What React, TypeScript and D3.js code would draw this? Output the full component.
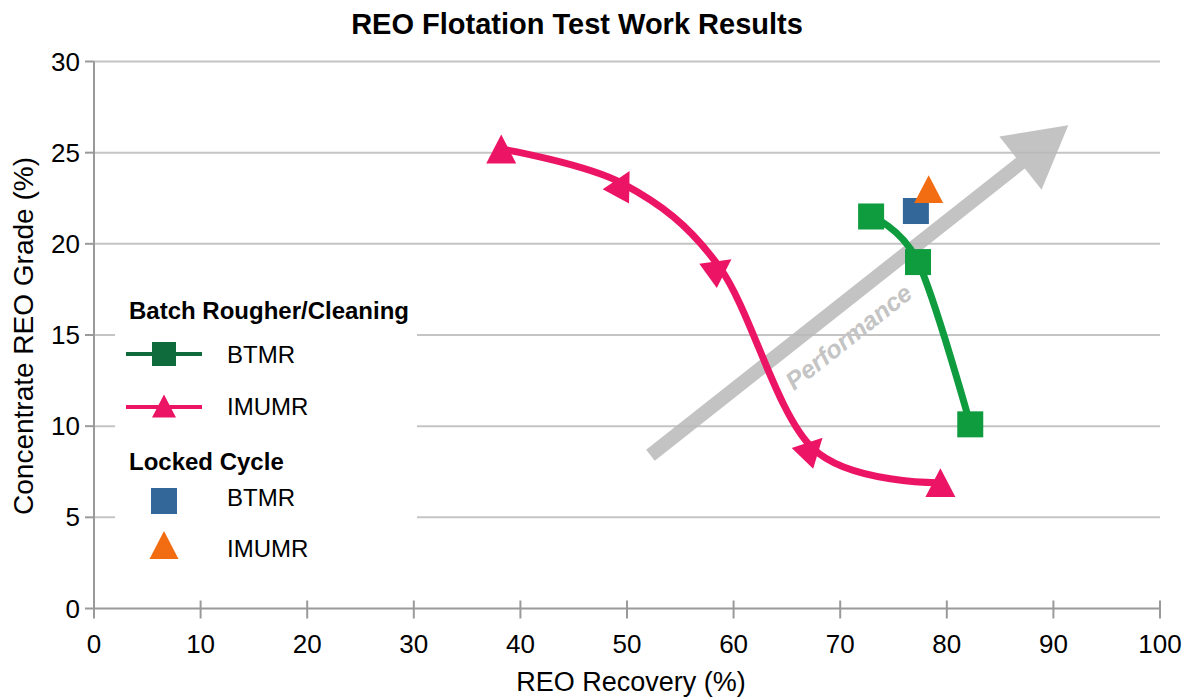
import * as d3 from "d3";
import { useEffect, useRef } from "react";

// axis ticks
const xTicks = [0, 10, 20, 30, 40, 50, 60, 70, 80, 90, 100];
const yTicks = [0, 5, 10, 15, 20, 25, 30];

// batch rougher/cleaning series (recovery %, grade %)
const btmrRecovery = [72.9, 77.3, 82.2];
const btmrGrade = [21.5, 19.0, 10.1];
const imumrRecovery = [38.2, 49.6, 58.7, 67.4, 79.4];
const imumrGrade = [25.2, 23.3, 18.7, 8.8, 6.9];

// locked cycle single points
const lockedBtmr = [77.1, 21.8];
const lockedImumr = [78.3, 23.0];

// "Performance" arrow, start and tip in data units
const arrowFrom = [52.2, 8.4];
const arrowTo = [91.4, 26.5];

const PINK = "#ec1565";
const GREEN = "#0e9c3e";
const LEGEND_GREEN = "#0f6b3c";
const BLUE = "#336699";
const ORANGE = "#f26c12";
const FONT = "'Liberation Sans', Arial, sans-serif";

const tri = (s: number) => `M0,${-s * 0.48}L${s / 2},${s * 0.48}L${-s / 2},${s * 0.48}Z`;

export default function App() {
  const svgRef = useRef<SVGSVGElement>(null);
  const width = 1196;
  const height = 700;

  useEffect(() => {
    const svg = d3.select(svgRef.current);
    svg.selectAll("*").remove();

    const x = d3.scaleLinear().domain([0, 100]).range([94, 1160]);
    const y = d3.scaleLinear().domain([0, 30]).range([608.5, 61.5]);

    // title
    svg.append("text")
      .attr("x", 577).attr("y", 34)
      .attr("text-anchor", "middle")
      .style("font", `bold 29px ${FONT}`)
      .text("REO Flotation Test Work Results");

    // grid lines
    svg.append("g")
      .selectAll("line")
      .data(yTicks.filter(d => d > 0))
      .enter()
      .append("line")
      .attr("x1", x(0)).attr("x2", x(100))
      .attr("y1", d => y(d)).attr("y2", d => y(d))
      .attr("stroke", "#c4c4c4")
      .attr("stroke-width", 2);

    // legend background hides the grid
    svg.append("rect")
      .attr("x", 115).attr("y", 282)
      .attr("width", 302).attr("height", 290)
      .attr("fill", "#fff");

    // axes
    const ax = svg.append("g").attr("stroke", "#9a9a9a").attr("stroke-width", 2);
    ax.append("line").attr("x1", x(0)).attr("x2", x(100)).attr("y1", y(0)).attr("y2", y(0));
    ax.append("line").attr("x1", x(0)).attr("x2", x(0)).attr("y1", y(0)).attr("y2", y(30));
    ax.selectAll("line.xt").data(xTicks).enter().append("line")
      .attr("class", "xt")
      .attr("x1", d => x(d)).attr("x2", d => x(d))
      .attr("y1", y(0) - 8).attr("y2", y(0) + 10);
    ax.selectAll("line.yt").data(yTicks).enter().append("line")
      .attr("class", "yt")
      .attr("x1", x(0) - 9).attr("x2", x(0))
      .attr("y1", d => y(d)).attr("y2", d => y(d));

    svg.append("g")
      .selectAll("text")
      .data(xTicks)
      .enter()
      .append("text")
      .attr("x", d => x(d))
      .attr("y", 653)
      .attr("text-anchor", "middle")
      .style("font", `26px ${FONT}`)
      .text(d => d);

    svg.append("g")
      .selectAll("text")
      .data(yTicks)
      .enter()
      .append("text")
      .attr("x", 80)
      .attr("y", d => y(d) + 9)
      .attr("text-anchor", "end")
      .style("font", `26px ${FONT}`)
      .text(d => d);

    svg.append("text")
      .attr("x", 631).attr("y", 691)
      .attr("text-anchor", "middle")
      .style("font", `27px ${FONT}`)
      .text("REO Recovery (%)");

    svg.append("text")
      .attr("transform", `translate(33,336) rotate(-90)`)
      .attr("text-anchor", "middle")
      .style("font", `28px ${FONT}`)
      .text("Concentrate REO Grade (%)");

    // performance arrow
    const ax0 = x(arrowFrom[0]), ay0 = y(arrowFrom[1]);
    const ax1 = x(arrowTo[0]), ay1 = y(arrowTo[1]);
    const len = Math.hypot(ax1 - ax0, ay1 - ay0);
    const ang = Math.atan2(ay1 - ay0, ax1 - ax0) * 180 / Math.PI;
    const headLen = 61, headW = 68, shaftW = 14;
    const arrowG = svg.append("g")
      .attr("transform", `translate(${ax0},${ay0}) rotate(${ang})`);
    arrowG.append("path")
      .attr("d", `M0,${-shaftW / 2}L${len - headLen},${-shaftW / 2}L${len - headLen},${-headW / 2}L${len},0L${len - headLen},${headW / 2}L${len - headLen},${shaftW / 2}L0,${shaftW / 2}Z`)
      .attr("fill", "#b8b8b8")
      .attr("opacity", 0.85);
    arrowG.append("text")
      .attr("x", len * 0.43).attr("y", 32)
      .attr("text-anchor", "middle")
      .attr("dominant-baseline", "middle")
      .attr("fill", "#c4c4c4")
      .style("font", `italic bold 25px ${FONT}`)
      .text("Performance");

    const line = d3.line<number[]>()
      .x(d => x(d[0]))
      .y(d => y(d[1]))
      .curve(d3.curveCardinal.tension(0));

    const btmrPts = btmrRecovery.map((r, i) => [r, btmrGrade[i]]);
    const imumrPts = imumrRecovery.map((r, i) => [r, imumrGrade[i]]);

    svg.append("path")
      .attr("d", line(btmrPts))
      .attr("fill", "none")
      .attr("stroke", GREEN)
      .attr("stroke-width", 7);
    svg.append("path")
      .attr("d", line(imumrPts))
      .attr("fill", "none")
      .attr("stroke", PINK)
      .attr("stroke-width", 7);

    svg.append("g")
      .selectAll("rect")
      .data(btmrPts)
      .enter()
      .append("rect")
      .attr("x", d => x(d[0]) - 13)
      .attr("y", d => y(d[1]) - 13)
      .attr("width", 26).attr("height", 26)
      .attr("fill", GREEN);

    // triangles follow the curve direction at interior points
    const rot = (i: number) => {
      if (i === 0 || i === imumrPts.length - 1) return 0;
      const a = imumrPts[i - 1], b = imumrPts[i + 1];
      return Math.atan2(y(b[1]) - y(a[1]), x(b[0]) - x(a[0])) * 180 / Math.PI;
    };
    svg.append("g")
      .selectAll("path")
      .data(imumrPts)
      .enter()
      .append("path")
      .attr("d", tri(30))
      .attr("transform", (d, i) => `translate(${x(d[0])},${y(d[1])}) rotate(${rot(i)})`)
      .attr("fill", PINK);

    svg.append("rect")
      .attr("x", x(lockedBtmr[0]) - 13)
      .attr("y", y(lockedBtmr[1]) - 13)
      .attr("width", 26).attr("height", 26)
      .attr("fill", BLUE);
    svg.append("path")
      .attr("d", tri(29))
      .attr("transform", `translate(${x(lockedImumr[0])},${y(lockedImumr[1])})`)
      .attr("fill", ORANGE);

    // legend
    const lg = svg.append("g").style("font", `24px ${FONT}`);
    lg.append("text").attr("x", 129).attr("y", 319).style("font-weight", "bold").text("Batch Rougher/Cleaning");
    lg.append("line").attr("x1", 126).attr("x2", 202).attr("y1", 354).attr("y2", 354)
      .attr("stroke", LEGEND_GREEN).attr("stroke-width", 4);
    lg.append("rect").attr("x", 152).attr("y", 342).attr("width", 24).attr("height", 24).attr("fill", LEGEND_GREEN);
    lg.append("text").attr("x", 227).attr("y", 363).text("BTMR");
    lg.append("line").attr("x1", 126).attr("x2", 202).attr("y1", 407).attr("y2", 407)
      .attr("stroke", PINK).attr("stroke-width", 4);
    lg.append("path").attr("d", tri(24)).attr("transform", "translate(164,406)").attr("fill", PINK);
    lg.append("text").attr("x", 227).attr("y", 415).text("IMUMR");
    lg.append("text").attr("x", 129).attr("y", 470).style("font-weight", "bold").text("Locked Cycle");
    lg.append("rect").attr("x", 151).attr("y", 488).attr("width", 26).attr("height", 26).attr("fill", BLUE);
    lg.append("text").attr("x", 227).attr("y", 506).text("BTMR");
    lg.append("path").attr("d", tri(29)).attr("transform", "translate(164,545)").attr("fill", ORANGE);
    lg.append("text").attr("x", 227).attr("y", 557).text("IMUMR");
  }, []);

  return (
    <div style={{ position: "absolute", left: 0, top: 0, background: "#fff" }}>
      <svg ref={svgRef} width={width} height={height} style={{ display: "block" }}></svg>
    </div>
  );
}
